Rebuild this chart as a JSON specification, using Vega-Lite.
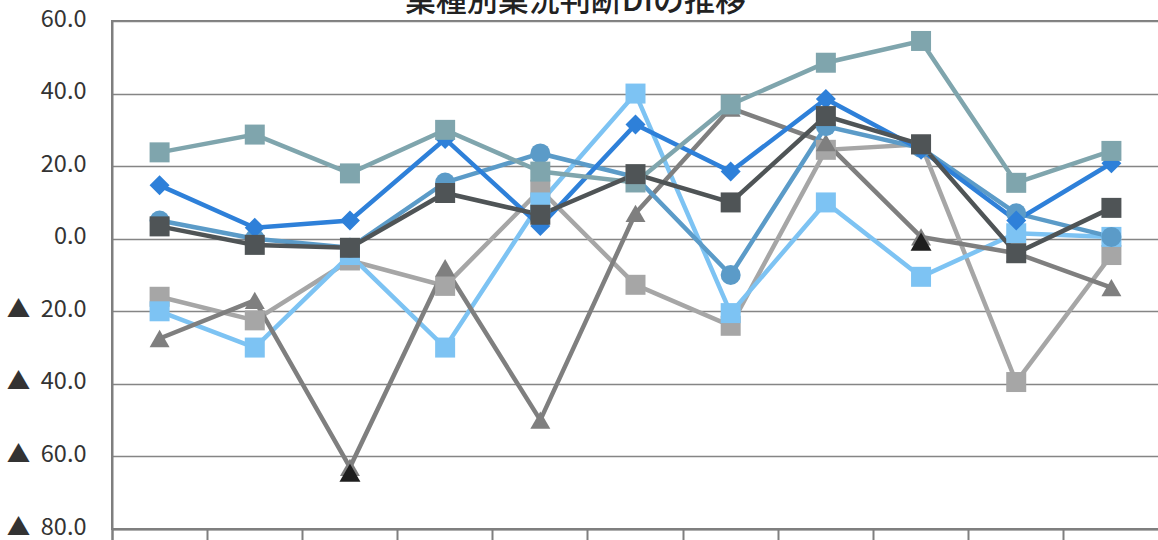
{
  "$schema": "https://vega.github.io/schema/vega-lite/v6.json",
  "autosize": {"type": "none"},
  "padding": {"left": 112, "top": 21, "right": 0, "bottom": 11},
  "width": 1047,
  "height": 508,
  "background": "white",
  "title": {
    "text": "業種別業況判断DIの推移",
    "font": "Noto Sans CJK JP",
    "fontSize": 31,
    "fontWeight": 500,
    "color": "#222222",
    "anchor": "middle",
    "dx": -60,
    "dy": 42,
    "baseline": "bottom",
    "offset": 0
  },
  "config": {
    "view": {"stroke": "#7f7f7f", "strokeWidth": 2},
    "axis": {"labelFont": "Noto Sans CJK JP", "labelFontSize": 23.5, "labelColor": "#333333"}
  },
  "datasets": {
    "main": [
      {"t": 1, "s": "系列1", "v": -16},
      {"t": 2, "s": "系列1", "v": -22.5},
      {"t": 3, "s": "系列1", "v": -6},
      {"t": 4, "s": "系列1", "v": -13},
      {"t": 5, "s": "系列1", "v": 13.5},
      {"t": 6, "s": "系列1", "v": -12.7},
      {"t": 7, "s": "系列1", "v": -24},
      {"t": 8, "s": "系列1", "v": 24.5},
      {"t": 9, "s": "系列1", "v": 26},
      {"t": 10, "s": "系列1", "v": -39.5},
      {"t": 11, "s": "系列1", "v": -4.5},
      {"t": 1, "s": "系列2", "v": -20},
      {"t": 2, "s": "系列2", "v": -30},
      {"t": 3, "s": "系列2", "v": -4.5},
      {"t": 4, "s": "系列2", "v": -30},
      {"t": 5, "s": "系列2", "v": 10},
      {"t": 6, "s": "系列2", "v": 40},
      {"t": 7, "s": "系列2", "v": -20.5},
      {"t": 8, "s": "系列2", "v": 10},
      {"t": 9, "s": "系列2", "v": -10.5},
      {"t": 10, "s": "系列2", "v": 1.5},
      {"t": 11, "s": "系列2", "v": 0.5},
      {"t": 1, "s": "系列3", "v": -27.5},
      {"t": 2, "s": "系列3", "v": -17},
      {"t": 3, "s": "系列3", "v": -63},
      {"t": 4, "s": "系列3", "v": -8},
      {"t": 5, "s": "系列3", "v": -50},
      {"t": 6, "s": "系列3", "v": 7},
      {"t": 7, "s": "系列3", "v": 36},
      {"t": 8, "s": "系列3", "v": 26.5},
      {"t": 9, "s": "系列3", "v": 0.5},
      {"t": 10, "s": "系列3", "v": -4},
      {"t": 11, "s": "系列3", "v": -13.5},
      {"t": 1, "s": "系列4", "v": 5},
      {"t": 2, "s": "系列4", "v": 0},
      {"t": 3, "s": "系列4", "v": -2.5},
      {"t": 4, "s": "系列4", "v": 15.5},
      {"t": 5, "s": "系列4", "v": 23.5},
      {"t": 6, "s": "系列4", "v": 17},
      {"t": 7, "s": "系列4", "v": -10},
      {"t": 8, "s": "系列4", "v": 31},
      {"t": 9, "s": "系列4", "v": 25},
      {"t": 10, "s": "系列4", "v": 7},
      {"t": 11, "s": "系列4", "v": 0.5},
      {"t": 1, "s": "系列5", "v": 14.7},
      {"t": 2, "s": "系列5", "v": 3},
      {"t": 3, "s": "系列5", "v": 5},
      {"t": 4, "s": "系列5", "v": 27.5},
      {"t": 5, "s": "系列5", "v": 3.5},
      {"t": 6, "s": "系列5", "v": 31.5},
      {"t": 7, "s": "系列5", "v": 18.5},
      {"t": 8, "s": "系列5", "v": 38.5},
      {"t": 9, "s": "系列5", "v": 24.5},
      {"t": 10, "s": "系列5", "v": 5},
      {"t": 11, "s": "系列5", "v": 20.8},
      {"t": 1, "s": "系列6", "v": 23.8},
      {"t": 2, "s": "系列6", "v": 28.7},
      {"t": 3, "s": "系列6", "v": 18},
      {"t": 4, "s": "系列6", "v": 30},
      {"t": 5, "s": "系列6", "v": 18.5},
      {"t": 6, "s": "系列6", "v": 15.5},
      {"t": 7, "s": "系列6", "v": 37},
      {"t": 8, "s": "系列6", "v": 48.5},
      {"t": 9, "s": "系列6", "v": 54.5},
      {"t": 10, "s": "系列6", "v": 15.4},
      {"t": 11, "s": "系列6", "v": 24.2},
      {"t": 1, "s": "系列7", "v": 3.4},
      {"t": 2, "s": "系列7", "v": -1.7},
      {"t": 3, "s": "系列7", "v": -2.5},
      {"t": 4, "s": "系列7", "v": 12.6},
      {"t": 5, "s": "系列7", "v": 6.6},
      {"t": 6, "s": "系列7", "v": 17.8},
      {"t": 7, "s": "系列7", "v": 10},
      {"t": 8, "s": "系列7", "v": 33.8},
      {"t": 9, "s": "系列7", "v": 26},
      {"t": 10, "s": "系列7", "v": -4},
      {"t": 11, "s": "系列7", "v": 8.5}
    ],
    "extra": [
      {"t": 3, "v": -64.5},
      {"t": 9, "v": -0.8}
    ]
  },
  "layer": [
    {
      "data": {"name": "main"},
      "mark": {"type": "line", "strokeWidth": 4.5},
      "encoding": {
        "x": {"field": "t", "type": "ordinal", "bandPosition": 0.5,
              "scale": {"type": "band", "paddingInner": 0, "paddingOuter": 0, "domain": [1,2,3,4,5,6,7,8,9,10,11]},
              "axis": {"title": null, "labels": false, "bandPosition": 0, "tickExtra": true, "tickSize": 12, "tickWidth": 2, "tickColor": "#7f7f7f", "domainColor": "#7f7f7f", "domainWidth": 2, "grid": false}},
        "y": {"field": "v", "type": "quantitative",
              "scale": {"domain": [-80, 60], "nice": false, "zero": false},
              "axis": {"title": null, "values": [-80,-60,-40,-20,0,20,40,60], "ticks": false, "labelPadding": 26, "labelOffset": -2,
                       "labelExpr": "datum.value < 0 ? '▲\u00a0\u00a0' + format(-datum.value, '.1f') : format(datum.value, '.1f')",
                       "grid": true, "gridColor": "#858585", "gridWidth": 1.6, "domainColor": "#7f7f7f", "domainWidth": 2}},
        "color": {"field": "s", "type": "nominal", "legend": null,
                  "scale": {"domain": ["系列1","系列2","系列3","系列4","系列5","系列6","系列7"],
                            "range": ["#a6a6a6","#7dc3f3","#7f7f7f","#5b9bc8","#2e80d9","#7fa5ad","#4f5456"]}},
        "order": {"field": "t", "type": "quantitative"}
      }
    },
    {
      "data": {"name": "main"},
      "mark": {"type": "point", "filled": true, "opacity": 1},
      "encoding": {
        "x": {"field": "t", "type": "ordinal", "bandPosition": 0.5},
        "y": {"field": "v", "type": "quantitative"},
        "color": {"field": "s", "type": "nominal", "legend": null},
        "shape": {"field": "s", "type": "nominal", "legend": null,
                  "scale": {"domain": ["系列1","系列2","系列3","系列4","系列5","系列6","系列7"],
                            "range": ["square","square","triangle-up","circle","diamond","square","square"]}},
        "size": {"field": "s", "type": "nominal", "legend": null,
                 "scale": {"domain": ["系列1","系列2","系列3","系列4","系列5","系列6","系列7"],
                           "range": [400, 400, 440, 340, 340, 400, 400]}}
      }
    },
    {
      "data": {"name": "extra"},
      "mark": {"type": "point", "filled": true, "opacity": 1, "shape": "triangle-up", "size": 440, "color": "#1e1e1e"},
      "encoding": {
        "x": {"field": "t", "type": "ordinal", "bandPosition": 0.5},
        "y": {"field": "v", "type": "quantitative"}
      }
    }
  ]
}
